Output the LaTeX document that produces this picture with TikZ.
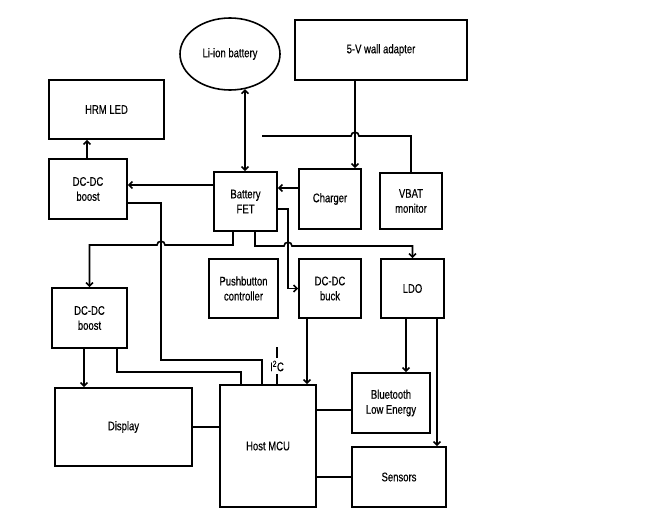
\documentclass[tikz,border=0pt]{standalone}
\usepackage{fontspec}
\setmainfont{Liberation Sans}[FakeStretch=0.76,FakeBold=0.3]
\usetikzlibrary{arrows.meta,shapes.geometric,calc}
\begin{document}
\begin{tikzpicture}[x=1pt,y=-1pt,line width=1.6pt,
  box/.style={draw,inner sep=0pt,align=center,font=\fontsize{12.5}{15}\selectfont},
  lbl/.style={inner sep=2pt,font=\fontsize{12.5}{15}\selectfont},
  arr/.style={-{Straight Barb[length=3.5pt,width=7pt]}},
  arrb/.style={{Straight Barb[length=3.5pt,width=7pt]}-{Straight Barb[length=3.5pt,width=7pt]}}]
\useasboundingbox[fill=white] (0,0) rectangle (666,525);

\node[box,minimum width=172pt,minimum height=60pt] (adapter) at (381,50) {5-V wall adapter};
\node[box,ellipse,minimum width=100pt,minimum height=72pt] (bat) at (230,54) {Li-ion battery};
\node[box,minimum width=115pt,minimum height=59pt] (hrm) at (106.5,109.5) {HRM LED};
\node[box,minimum width=78pt,minimum height=60pt] (boost1) at (88,189) {DC-DC\\boost};
\node[box,minimum width=63pt,minimum height=59pt] (fet) at (245.5,201.5) {Battery\\FET};
\node[box,minimum width=62pt,minimum height=60pt] (charger) at (330,199) {Charger};
\node[box,minimum width=62pt,minimum height=56pt] (vbat) at (411,201) {VBAT\\monitor};
\node[box,minimum width=69pt,minimum height=59pt] (push) at (243.5,288.5) {Pushbutton\\controller};
\node[box,minimum width=62pt,minimum height=59pt] (buck) at (330,288.5) {DC-DC\\buck};
\node[box,minimum width=63pt,minimum height=59pt] (ldo) at (412.5,288.5) {LDO};
\node[box,minimum width=75pt,minimum height=60pt] (boost2) at (89.5,318) {DC-DC\\boost};
\node[box,minimum width=137pt,minimum height=78pt] (display) at (123.5,427) {Display};
\node[box,minimum width=96pt,minimum height=122pt] (mcu) at (268,446) {Host MCU};
\node[box,minimum width=78pt,minimum height=60pt] (ble) at (391,403) {Bluetooth\\Low Energy};
\node[box,minimum width=94pt,minimum height=60pt] (sensors) at (399,477) {Sensors};

% HRM LED
\draw[arr] (boost1.north -| 87,0) -- (hrm.south -| 87,0);
% battery
\draw[arrb] (fet.north -| 245,0) -- (bat.294 -| 245,0);
% adapter to charger
\draw[arr] (adapter.south -| 355,0) -- (charger.north -| 355,0);
% vbat line with free end
\coordinate (vfree) at (262,136);
\draw (vbat.north) -- (vbat.north |- vfree) -- (359,136) .. controls (359,131) and (351,131) .. (351,136) -- (vfree);
% fet to boost1
\draw[arr] (fet.west |- 0,185) -- (boost1.east |- 0,185);
% charger to fet
\draw[arr] (charger.west |- 0,188) -- (fet.east |- 0,188);
% boost1 to mcu
\draw (boost1.east |- 0,203) -- (161,203) -- (161,360) -- (262,360) -- (mcu.north -| 262,0);
% fet to boost2
\draw[arr] (fet.south -| 233,0) -- (233,245) -- (165,245) .. controls (165,240) and (157,240) .. (157,245) -- (boost2.north |- 0,245) -- (boost2.north);
% fet to ldo
\draw[arr] (fet.south -| 255,0) -- (255,246) -- (284,246) .. controls (284,241) and (292,241) .. (292,246) -- (ldo.north |- 0,246) -- (ldo.north);
% fet to buck
\draw[arr] (fet.east |- 0,209) -- (288,209) -- (288,288.5) -- (buck.west);
% buck to mcu
\draw[arr] (buck.south -| 307,0) -- (mcu.north -| 307,0);
% ldo to ble, sensors
\draw[arr] (ldo.south -| 406,0) -- (ble.north -| 406,0);
\draw[arr] (ldo.south -| 437,0) -- (sensors.north -| 437,0);
% boost2 to display, mcu
\draw[arr] (boost2.south -| 84,0) -- (display.north -| 84,0);
\draw (boost2.south -| 117,0) -- (117,372) -- (241,372) -- (mcu.north -| 241,0);
% mcu links
\draw (display.east) -- (mcu.west |- display.east);
\draw (mcu.east |- 0,410) -- (ble.west |- 0,410);
\draw (mcu.east |- sensors.west) -- (sensors.west);
% I2C
\node[lbl] (i2c) at (277,366) {I\textsuperscript{2}C};
\coordinate (i2ctop) at (277,347);
\draw (mcu.north -| i2c.south) -- (i2c.south);
\draw (i2ctop -| i2c.north) -- (i2c.north);
\end{tikzpicture}
\end{document}
